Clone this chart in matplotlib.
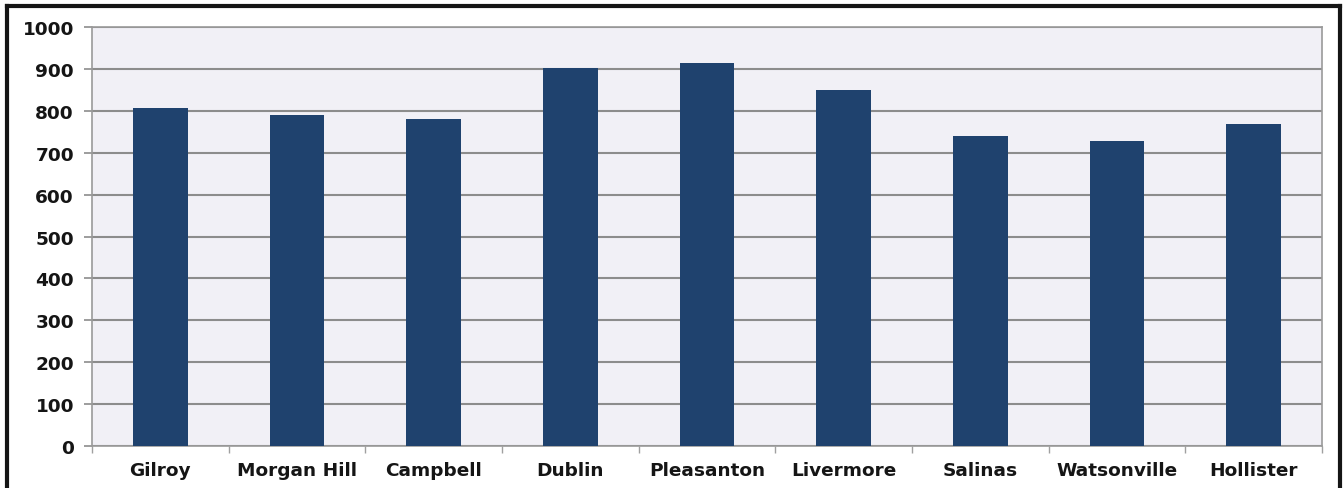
import matplotlib
matplotlib.use("Agg")
import matplotlib.pyplot as plt
from matplotlib.lines import Line2D

categories = ["Gilroy", "Morgan Hill", "Campbell", "Dublin", "Pleasanton",
              "Livermore", "Salinas", "Watsonville", "Hollister"]
values = [806, 790, 780, 903, 915, 849, 740, 728, 768]
yticks = [0, 100, 200, 300, 400, 500, 600, 700, 800, 900, 1000]

W, H = 1344, 489
fig = plt.figure(figsize=(W / 100, H / 100), dpi=100)
fig.patch.set_facecolor("white")

ax = fig.add_axes([92 / W, 1 - 447 / H, (1322 - 92) / W, (447 - 28) / H])
ax.set_facecolor("#F1F0F6")

x = list(range(len(categories)))
ax.bar(x, values, width=0.4, color="#1F426E", zorder=3)

ax.set_xlim(-0.5, len(categories) - 0.5)
ax.set_ylim(0, 1000)
ax.set_yticks(yticks)
ax.set_yticklabels([str(t) for t in yticks])
ax.yaxis.grid(True, color="#8C8C8C", linewidth=1.5, zorder=1)
ax.set_axisbelow(True)

ax.set_xticks(x)
ax.set_xticklabels(categories)
ax.tick_params(axis="x", length=0, pad=11)
ax.set_xticks([i + 0.5 for i in range(-1, len(categories))], minor=True)
ax.tick_params(axis="x", which="minor", length=5, color="#A0A0A0", width=1)
ax.tick_params(axis="y", length=6, color="#8C8C8C", width=1.2, pad=7)

for lbl in ax.get_xticklabels() + ax.get_yticklabels():
    lbl.set_fontfamily("DejaVu Sans")
    lbl.set_fontweight("bold")
    lbl.set_fontsize(13.3)
    lbl.set_color("#151515")

for s in ["top", "right", "left", "bottom"]:
    ax.spines[s].set_color("#9A9A9A")
    ax.spines[s].set_linewidth(1.2)

# outer black frame
lw = 3
for xs, ys in [((7 / W, 7 / W), (0, 1 - 7 / H)),
               ((7 / W, 1340 / W), (1 - 7 / H, 1 - 7 / H)),
               ((1340 / W, 1340 / W), (0, 1 - 7 / H))]:
    fig.add_artist(Line2D(xs, ys, color="#151515", linewidth=lw,
                          transform=fig.transFigure))

fig.savefig("out.png", dpi=100)
